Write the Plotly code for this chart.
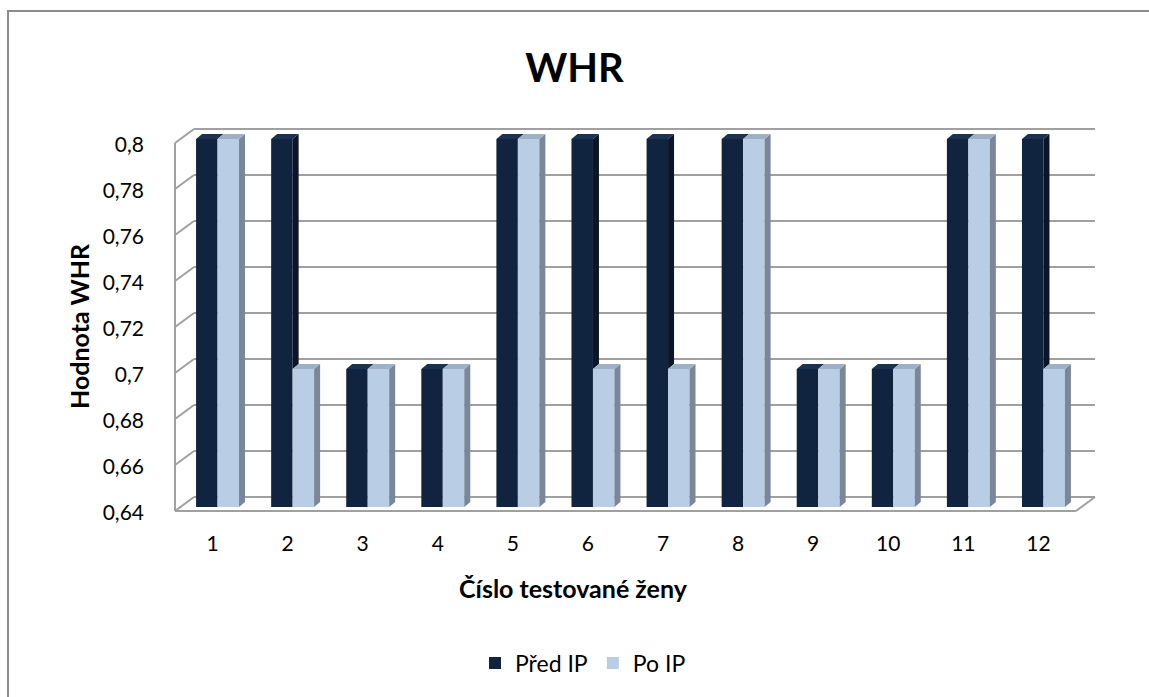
import plotly.graph_objects as go

# ---- data ----
categories = [1, 2, 3, 4, 5, 6, 7, 8, 9, 10, 11, 12]
pred_ip = [0.8, 0.8, 0.7, 0.7, 0.8, 0.8, 0.8, 0.8, 0.7, 0.7, 0.8, 0.8]
po_ip = [0.8, 0.7, 0.7, 0.7, 0.8, 0.7, 0.7, 0.8, 0.7, 0.7, 0.8, 0.7]
y_ticks = [0.64, 0.66, 0.68, 0.70, 0.72, 0.74, 0.76, 0.78, 0.80]
y_ticktext = ["0,64", "0,66", "0,68", "0,7", "0,72", "0,74", "0,76", "0,78", "0,8"]

# ---- geometry (pixels) ----
W, H = 1149, 697
BX0, BX1 = 180, 1081          # bar plane x span (category range 0.5..12.5)
BY_BOT = 507                  # pixel of 0.64 on bar plane
PPU = 368 / 0.16              # pixels per value unit
YMIN, YMAX = 0.64, 0.81
BY_TOP = BY_BOT - (YMAX - YMIN) * PPU
CAT_W = (BX1 - BX0) / 12
BAR_W = 0.286
DDX_PX, DDY_PX = 6, 5
ddx = DDX_PX / CAT_W
ddy = DDY_PX / PPU

FONT = "Lato, Open Sans, sans-serif"
DARK, DARK_SIDE, DARK_TOP = "#10243F", "#0A1628", "#1B3253"
LIGHT, LIGHT_SIDE, LIGHT_TOP = "#B9CDE5", "#7A8799", "#9DB0C7"
GRID = "#A0A0A0"


def px(x):
    return x / W


def py(y):
    return 1 - y / H


def bx(c):
    return BX0 + (c - 0.5) * CAT_W


def by(v):
    return BY_BOT - (v - 0.64) * PPU


def front(c, v):
    return px(bx(c) - 5), py(by(v) + 4)


def back(c, v):
    return px(bx(c) + 14), py(by(v) - 10)


shapes = []


def line(p0, p1, color=GRID, width=2, layer="below"):
    shapes.append(dict(type="line", xref="paper", yref="paper",
                       x0=p0[0], y0=p0[1], x1=p1[0], y1=p1[1],
                       line=dict(color=color, width=width), layer=layer))


# back wall gridlines and left wall diagonals
for v in y_ticks:
    line(back(0.5, v), back(12.5, v))
    line(front(0.5, v), back(0.5, v))
# left wall front edge, floor front edge and right floor diagonal
line(front(0.5, 0.64), front(0.5, 0.80))
line(front(0.5, 0.64), front(12.5, 0.64))
line(front(12.5, 0.64), back(12.5, 0.64))

# chart border (left and top)
shapes.append(dict(type="line", xref="paper", yref="paper", x0=px(8), x1=px(8),
                   y0=py(11), y1=py(720), line=dict(color="#8C8C8C", width=2)))
shapes.append(dict(type="line", xref="paper", yref="paper", x0=px(7), x1=px(1170),
                   y0=py(11), y1=py(11), line=dict(color="#8C8C8C", width=2)))


def poly(pts, color):
    path = "M " + " L ".join(f"{x},{y}" for x, y in pts) + " Z"
    shapes.append(dict(type="path", xref="x", yref="y", path=path,
                       fillcolor=color, line=dict(width=0), layer="above"))


# 3D side and top faces, dark bars first then light bars
for c, vd, vl in zip(categories, pred_ip, po_ip):
    xl, xr = c - BAR_W, c
    bottom = max(0.64, vl)
    if vd > bottom:
        poly([(xr, bottom), (xr + ddx, bottom + ddy), (xr + ddx, vd + ddy), (xr, vd)], DARK_SIDE)
    poly([(xl, vd), (xl + ddx, vd + ddy), (xr + ddx, vd + ddy), (xr, vd)], DARK_TOP)
for c, vl in zip(categories, po_ip):
    xl, xr = c, c + BAR_W
    poly([(xr, 0.64), (xr + ddx, 0.64 + ddy), (xr + ddx, vl + ddy), (xr, vl)], LIGHT_SIDE)
    poly([(xl, vl), (xl + ddx, vl + ddy), (xr + ddx, vl + ddy), (xr, vl)], LIGHT_TOP)

fig = go.Figure()
fig.add_trace(go.Bar(x=categories, y=pred_ip, name="Před IP", width=BAR_W,
                     offset=-BAR_W, marker=dict(color=DARK, line=dict(width=0))))
fig.add_trace(go.Bar(x=categories, y=po_ip, name="Po IP", width=BAR_W,
                     offset=0, marker=dict(color=LIGHT, line=dict(width=0))))

fig.update_layout(
    width=W, height=H,
    margin=dict(l=0, r=0, t=0, b=0, autoexpand=False),
    paper_bgcolor="white", plot_bgcolor="rgba(0,0,0,0)",
    font=dict(family=FONT, size=21, color="#000000"),
    barmode="overlay",
    title=dict(text="<b>WHR</b>", x=0.5, xanchor="center", y=py(68), yanchor="middle",
               font=dict(family=FONT, size=40, color="#000000")),
    xaxis=dict(domain=[px(BX0), px(BX1)], range=[0.5, 12.5], tickmode="array",
               tickvals=categories, ticktext=[str(c) for c in categories],
               showgrid=False, zeroline=False, showline=False, ticks="", automargin=False,
               ticklabelshift=-5, ticklabelstandoff=22, fixedrange=True),
    yaxis=dict(domain=[py(BY_BOT), py(BY_TOP)], range=[YMIN, YMAX], tickmode="array",
               tickvals=y_ticks, ticktext=y_ticktext, automargin=False,
               showgrid=False, zeroline=False, showline=False, ticks="",
               ticklabelshift=6, ticklabelstandoff=35, fixedrange=True),
    legend=dict(orientation="h", x=px(583), xanchor="center", y=py(663), yanchor="middle",
                font=dict(family=FONT, size=23), itemwidth=30, traceorder="normal"),
    shapes=shapes,
    annotations=[
        dict(text="<b>Číslo testované ženy</b>", xref="paper", yref="paper",
             x=px(573), y=py(588), showarrow=False, xanchor="center", yanchor="middle",
             font=dict(family=FONT, size=25)),
        dict(text="<b>Hodnota WHR</b>", xref="paper", yref="paper",
             x=px(79), y=py(326), showarrow=False, textangle=-90,
             xanchor="center", yanchor="middle", font=dict(family=FONT, size=25)),
    ],
)

fig.write_html("out.html", config={"displayModeBar": False},
               post_script="document.body.style.margin='0';document.body.style.overflow='hidden';")
